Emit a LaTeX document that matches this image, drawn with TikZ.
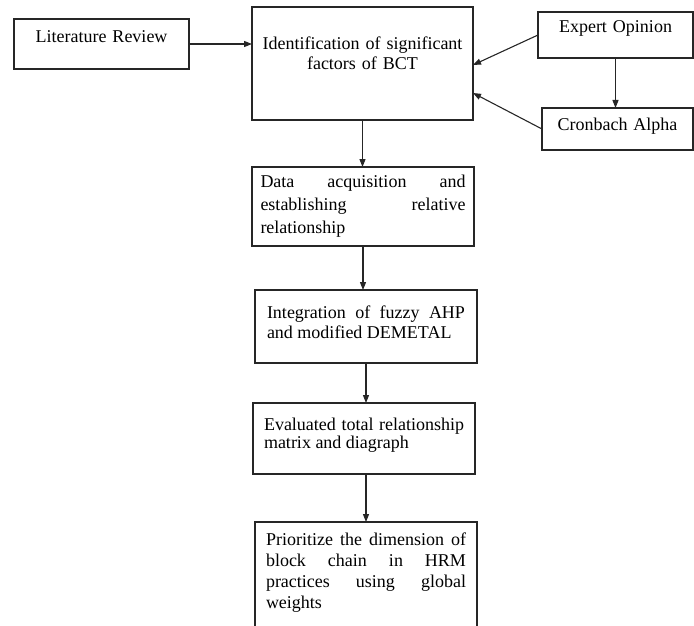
\documentclass[tikz,border=0pt]{standalone}
\usepackage{fontspec}
\setmainfont{Liberation Serif}
\usetikzlibrary{arrows.meta}
\begin{document}
\begin{tikzpicture}[x=1pt,y=-1pt,
  box/.style={draw=black!85, line width=1.1pt, anchor=north west, inner ysep=0pt, outer sep=0pt,
    execute at begin node={\hyphenpenalty=10000\exhyphenpenalty=10000\tolerance=10000\hbadness=10000}},
  fs/.style={font=\fontsize{18}{#1}\selectfont},
  arr/.style={draw=black!85, line width=1.1pt, -{Stealth[length=8pt,width=6pt,inset=0pt]}}]
\useasboundingbox (0,0) rectangle (694,626);
\clip (0,0) rectangle (694,626);
\node[box, fs=20, text width=165pt, inner xsep=5pt, align=center, text height=24pt, text depth=26pt] (lit) at (14,19) {Literature Review};
\node[box, fs=20, text width=205pt, inner xsep=8pt, align=center, text height=43pt, text depth=70pt] (ident) at (252,7) {Identification of significant\\factors of BCT};
\node[box, fs=20, text width=145pt, inner xsep=5pt, align=center, text height=21pt, text depth=25pt] (expert) at (538,12) {Expert Opinion};
\node[box, fs=20, text width=141pt, inner xsep=5pt, align=center, text height=22pt, text depth=20pt] (cron) at (542,108) {Cronbach Alpha};
\node[box, fs=23, text width=205pt, inner xsep=8.5pt, align=justify, text height=20pt, text depth=59pt] (data) at (252,167) {Data~acquisition~and\linebreak establishing~relative\linebreak relationship};
\node[box, fs=20, text width=198pt, inner xsep=12pt, align=justify, text height=28pt, text depth=45pt] (integ) at (255,290) {Integration~of~fuzzy~AHP\linebreak and~modified~DEMETAL};
\node[box, fs=18, text width=200pt, inner xsep=11pt, align=justify, text height=27pt, text depth=44pt] (eval) at (253,403) {Evaluated~total~relationship\linebreak matrix~and~diagraph};
\node[box, fs=21, text width=200pt, inner xsep=11pt, align=justify, text height=23pt, text depth=130pt] (prior) at (255,522) {Prioritize~the~dimension~of\linebreak block~chain~in~HRM\linebreak practices~using~global\linebreak weights};
\draw[arr] (lit.east) -- (ident.west |- lit.east);
\draw[arr] (expert.west) -- ([yshift=-58pt]ident.north east);
\draw[arr] (cron.west) -- ([yshift=-86pt]ident.north east);
\draw[arr] (expert.south) -- (expert.south |- cron.north);
\draw[arr] (ident.south) -- (ident.south |- data.north);
\draw[arr] (data.south) -- (data.south |- integ.north);
\draw[arr] (integ.south) -- (integ.south |- eval.north);
\draw[arr] (prior.north |- eval.south) -- (prior.north);
\end{tikzpicture}
\end{document}
